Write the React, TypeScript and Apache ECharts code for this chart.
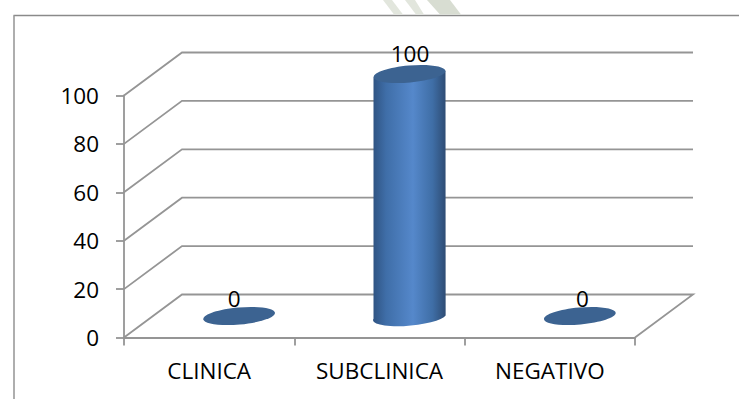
import React, { useEffect, useRef } from "react";
import * as echarts from "echarts";

const categories = ["CLINICA", "SUBCLINICA", "NEGATIVO"];
const values = [0, 100, 0];
const yTicks = [0, 20, 40, 60, 80, 100];

const FONT = "'Open Sans', sans-serif";
const AXIS_GREY = "#959595";
const LINE_W = 1.8;
const CAP_BLUE = "#3c6391";
// Receding offset of the chart floor, in pixels.
const DEPTH_X = 58;
const DEPTH_Y = 43;
const CYL_RX = 36;
const CYL_RY = 8.5;
const TILT_DEG = -5;
// Hand placement of each value caption relative to its cylinder's cap.
const CAPTION_SHIFT = [
  [-4, -18],
  [1.5, -21],
  [3.5, -18],
];

// Gridlines: one bent line per tick, running along the side wall and the back wall.
function renderGridLine(params: any, api: any) {
  const v = api.value(0);
  const band = api.size([1, 0])[0];
  const [x0, y] = api.coord([0, v]);
  const left = x0 - band / 2;
  const right = left + band * categories.length;
  const points = [
    [left, y],
    [left + DEPTH_X, y - DEPTH_Y],
    [right + DEPTH_X, y - DEPTH_Y],
  ];
  if (v === 0) {
    points.push([right, y]);
  }
  return {
    type: "polyline",
    silent: true,
    shape: { points },
    style: { fill: "none", stroke: AXIS_GREY, lineWidth: LINE_W },
  };
}

// Cylinders stand halfway into the depth of the floor.
function renderCylinder(params: any, api: any) {
  const idx = api.value(0);
  const v = api.value(1);
  const [cx0, yTop0] = api.coord([idx, v]);
  const [, yBase0] = api.coord([idx, 0]);
  const cx = cx0 + DEPTH_X / 2 + 1;
  const yTop = yTop0 - DEPTH_Y / 2;
  const yBase = yBase0 - DEPTH_Y / 2 - 0.5;
  const rise = Math.tan((-TILT_DEG * Math.PI) / 180) * CYL_RX;
  const children: any[] = [];
  if (v > 0) {
    const d =
      `M ${cx - CYL_RX} ${yTop + rise}` +
      ` L ${cx - CYL_RX} ${yBase + rise}` +
      ` A ${CYL_RX} ${CYL_RY} ${TILT_DEG} 0 0 ${cx + CYL_RX} ${yBase - rise}` +
      ` L ${cx + CYL_RX} ${yTop - rise} Z`;
    children.push({
      type: "path",
      shape: { pathData: d },
      style: {
        fill: new echarts.graphic.LinearGradient(0, 0, 1, 0, [
          { offset: 0, color: "#2f5382" },
          { offset: 0.18, color: "#3f6ea8" },
          { offset: 0.55, color: "#5588cb" },
          { offset: 0.82, color: "#3f6ea6" },
          { offset: 1, color: "#2e4c74" },
        ]),
      },
    });
  }
  children.push({
    type: "ellipse",
    shape: { cx: 0, cy: 0, rx: CYL_RX, ry: CYL_RY },
    x: cx,
    y: yTop,
    rotation: (-TILT_DEG * Math.PI) / 180,
    style: { fill: CAP_BLUE },
  });
  return { type: "group", silent: true, children };
}

// Value captions sit just above each cylinder's cap.
function renderValueLabel(params: any, api: any) {
  const idx = api.value(0);
  const v = api.value(1);
  const [cx0, yTop0] = api.coord([idx, v]);
  const [dx, dy] = CAPTION_SHIFT[idx];
  return {
    type: "text",
    silent: true,
    x: cx0 + DEPTH_X / 2 + dx,
    y: yTop0 - DEPTH_Y / 2 + dy,
    style: {
      text: String(v),
      font: `22.5px ${FONT}`,
      fill: "#000000",
      align: "center",
      verticalAlign: "middle",
    },
  };
}

export default function App() {
  const ref = useRef<HTMLDivElement>(null);

  useEffect(() => {
    if (!ref.current) return;
    const chart = echarts.init(ref.current, undefined, { renderer: "svg" });
    const pairs = values.map((v, i) => [i, v]);
    chart.setOption({
      animation: false,
      backgroundColor: "#ffffff",
      grid: { left: 124, top: 95.5, width: 511, height: 242 },
      xAxis: {
        type: "category",
        data: categories,
        axisLine: { lineStyle: { color: AXIS_GREY, width: LINE_W } },
        axisTick: { show: true, alignWithLabel: false, length: 8, lineStyle: { color: AXIS_GREY, width: LINE_W } },
        axisLabel: { color: "#000000", fontFamily: FONT, fontSize: 22.5, margin: 21 },
        splitLine: { show: false },
      },
      yAxis: {
        type: "value",
        min: 0,
        max: 100,
        interval: 20,
        axisLine: { show: true, lineStyle: { color: AXIS_GREY, width: LINE_W } },
        axisTick: { show: true, length: 8, lineStyle: { color: AXIS_GREY, width: LINE_W } },
        axisLabel: { color: "#000000", fontFamily: FONT, fontSize: 22.5, margin: 25 },
        splitLine: { show: false },
      },
      graphic: [
        // Frame around the chart area; it runs off the page to the right and below.
        { type: "line", silent: true, z: 0, shape: { x1: 13.5, y1: 15.5, x2: 739, y2: 15.5 }, style: { stroke: "#8a8a8a", lineWidth: 1.6 } },
        { type: "line", silent: true, z: 0, shape: { x1: 14, y1: 15.5, x2: 14, y2: 399 }, style: { stroke: "#9a9a9a", lineWidth: 1.6 } },
        // Diagonal stripes of the page's background emblem above the frame.
        { type: "polygon", silent: true, z: 0, shape: { points: [[383, 0], [392, 0], [403, 14.5], [394, 14.5]] }, style: { fill: "#e2e6dd" } },
        { type: "polygon", silent: true, z: 0, shape: { points: [[405, 0], [415, 0], [424, 14.5], [416, 14.5]] }, style: { fill: "#e2e6dd" } },
        { type: "polygon", silent: true, z: 0, shape: { points: [[427, 0], [450, 0], [461, 14.5], [440, 14.5]] }, style: { fill: "#d8ddd2" } },
      ],
      series: [
        {
          type: "custom",
          coordinateSystem: "cartesian2d",
          z: 1,
          clip: false,
          renderItem: renderGridLine,
          encode: { y: 0 },
          data: yTicks.map((t) => [t]),
        },
        {
          type: "custom",
          coordinateSystem: "cartesian2d",
          z: 3,
          clip: false,
          renderItem: renderCylinder,
          encode: { x: 0, y: 1 },
          data: pairs,
        },
        {
          type: "custom",
          coordinateSystem: "cartesian2d",
          z: 4,
          clip: false,
          renderItem: renderValueLabel,
          encode: { x: 0, y: 1 },
          data: pairs,
        },
      ],
    });
    return () => chart.dispose();
  }, []);

  return (
    <div
      ref={ref}
      style={{ position: "absolute", left: 0, top: 0, width: 739, height: 399 }}
    />
  );
}
